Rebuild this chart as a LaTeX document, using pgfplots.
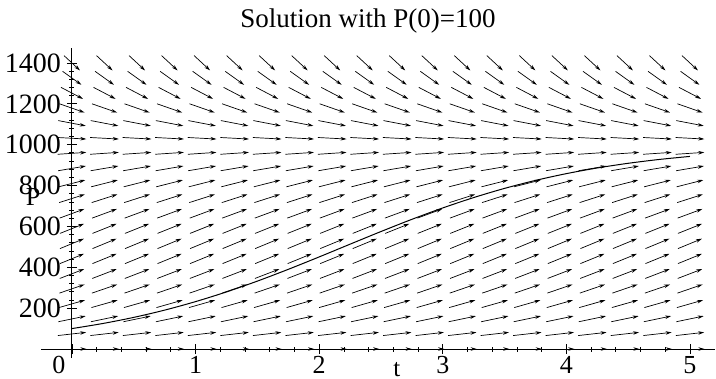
\documentclass[border=0pt]{standalone}
\usepackage{fontspec}
\setmainfont{Liberation Serif}
\usepackage{pgfplots}
\pgfplotsset{compat=1.18}
\usepackage{pgfplotstable}
\usetikzlibrary{arrows.meta}

\pgfplotstableread{
P u v
0 0.2329 0
73.68 0.2292 15.64
147.37 0.2208 27.75
221.05 0.2116 36.44
294.74 0.2036 42.33
368.42 0.1978 46.03
442.11 0.1945 47.98
515.79 0.1938 48.39
589.47 0.1956 47.34
663.16 0.2000 44.68
736.84 0.2068 40.11
810.53 0.2155 33.09
884.21 0.2247 23.00
957.89 0.2316 9.34
1031.58 0.2321 -7.56
1105.26 0.2224 -25.88
1178.95 0.2029 -42.81
1252.63 0.1779 -56.29
1326.32 0.1524 -65.95
1400 0.1294 -72.49
}\field

\pgfplotstableread{
t P
0 100
0.25 124.9
0.5 154.8
0.75 190.4
1 232.0
1.25 279.5
1.5 332.4
1.75 390.0
2 450.8
2.25 513.2
2.5 575.1
2.75 634.8
3 690.6
3.25 741.3
3.5 786.3
3.75 825.3
4 858.5
4.25 886.2
4.5 909.1
4.75 927.8
5 942.8
}\sol

\begin{document}
\begin{tikzpicture}[x=1pt,y=1pt]
\path[use as bounding box] (0,0) rectangle (716,379);
\begin{axis}[
  at={(41.1pt,20.8pt)}, anchor=south west, scale only axis,
  width=673.6pt, height=310.5pt,
  xmin=-0.25, xmax=5.2, ymin=-45, ymax=1475,
  clip=false,
  axis lines=middle,
  axis line style={-, line width=1pt, black},
  xtick={0,1,2,3,4,5},
  xticklabels={\llap{0}\phantom{0},1,2,3,4,5},
  ytick={200,400,600,800,1000,1200,1400},
  minor x tick num=4, minor y tick num=4,
  tick align=center,
  major tick length=10pt, minor tick length=5pt,
  every tick/.style={black, line width=0.8pt},
  hide obscured x ticks=false, hide obscured y ticks=false,
  yticklabel style={font=\fontsize{28}{28}\selectfont, inner sep=6pt},
  xticklabel style={font=\fontsize{26}{26}\selectfont, inner sep=2pt},
  /pgf/number format/assume math mode=true,
  /pgf/number format/set thousands separator={},
  xlabel={t}, ylabel={P},
  xlabel style={at={(axis description cs:0.528,-0.058)}, anchor=base, font=\fontsize{25}{25}\selectfont},
  ylabel style={at={(axis description cs:-0.012,0.519)}, anchor=center, rotate=0, font=\fontsize{26}{26}\selectfont},
  title={Solution with P(0)=100},
  title style={at={(axis description cs:0.4853,1.0457)}, anchor=base, font=\fontsize{27}{27}\selectfont},
]
\pgfplotsinvokeforeach{0,0.26316,0.52632,0.78947,1.05263,1.31579,1.57895,1.84211,2.10526,2.36842,2.63158,2.89474,3.15789,3.42105,3.68421,3.94737,4.21053,4.47368,4.73684,5}{
  \addplot[black, line width=0.7pt, -{Stealth[length=6pt,width=3.5pt]},
    quiver={u=\thisrow{u}, v=\thisrow{v}}]
    table[x expr={#1-0.5*\thisrow{u}}, y expr={\thisrow{P}-0.5*\thisrow{v}}] {\field};
}
\addplot[black, line width=1pt, smooth] table[x=t, y=P] {\sol};
\end{axis}
\end{tikzpicture}
\end{document}
